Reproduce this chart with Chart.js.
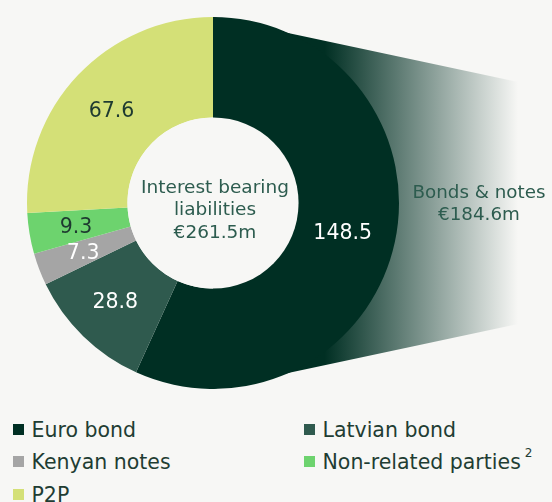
<!DOCTYPE html>
<html>
<head>
<meta charset="utf-8">
<script src="https://cdn.jsdelivr.net/npm/chart.js@4.4.1/dist/chart.umd.min.js"></script>
<style>
  html, body { margin: 0; padding: 0; background: #f7f7f5; }
  #wrap { position: relative; width: 552px; height: 502px; overflow: hidden; font-family: "DejaVu Sans", Verdana, sans-serif; }
  #chartBox { position: absolute; left: 0; top: 0; width: 552px; height: 400px; }
  #legend { position: absolute; left: 0; top: 413.5px; width: 552px; }
  .item { position: absolute; height: 32.5px; line-height: 32.5px; font-size: 20.5px; color: #1f3d33; white-space: nowrap; }
  .sw { position: absolute; left: 0; top: 10px; width: 11px; height: 11px; }
  .txt { position: absolute; left: 18.5px; top: 0; }
  sup { font-size: 12px; position: relative; top: -3px; vertical-align: top; line-height: 20px; margin-left: 4px; }
</style>
</head>
<body>
<div id="wrap">
  <div id="chartBox"><canvas id="donut"></canvas></div>
  <div id="legend"></div>
</div>
<script>
const categories = ['Euro bond', 'Latvian bond', 'Kenyan notes', 'Non-related parties', 'P2P'];
const values = [148.5, 28.8, 7.3, 9.3, 67.6];
const sliceColors = ['#002f23', '#2f5a4e', '#a5a5a5', '#6dd36e', '#d4e077'];
const labelColors = ['#ffffff', '#ffffff', '#ffffff', '#1e3a30', '#1e3a30'];
const footnotes = ['', '', '', '2', ''];
const centerLines = ['Interest bearing', 'liabilities', '€261.5m'];
const bondLines = ['Bonds & notes', '€184.6m'];

const FONT = '"DejaVu Sans", Verdana, sans-serif';
const BG = '#f7f7f5';

// fading band behind the bond slices, pointing to the "Bonds & notes" label
const bandPlugin = {
    id: 'band',
    beforeDatasetsDraw(chart) {
        const arc = chart.getDatasetMeta(0).data[0];
        if (!arc) return;
        const { x, y, outerRadius: r } = arc.getProps(['x', 'y', 'outerRadius'], true);
        const ctx = chart.ctx;
        const xr = x + 1.64 * r;
        const g = ctx.createLinearGradient(x + 0.6 * r, 0, xr, 0);
        g.addColorStop(0, 'rgba(0,47,35,1)');
        g.addColorStop(1, BG);
        ctx.save();
        ctx.beginPath();
        ctx.moveTo(x, y - r);
        ctx.lineTo(xr, y - 0.65 * r);
        ctx.lineTo(xr, y + 0.65 * r);
        ctx.lineTo(x, y + r);
        ctx.closePath();
        ctx.fillStyle = g;
        ctx.fill();
        ctx.restore();
    },
    afterDatasetsDraw(chart) {
        const meta = chart.getDatasetMeta(0);
        const ctx = chart.ctx;
        const { x, y, outerRadius: r, innerRadius: ir } =
            meta.data[0].getProps(['x', 'y', 'outerRadius', 'innerRadius'], true);
        ctx.save();

        // the hole keeps the page colour
        ctx.beginPath();
        ctx.arc(x, y, ir, 0, Math.PI * 2);
        ctx.fillStyle = BG;
        ctx.fill();

        ctx.textAlign = 'center';
        ctx.textBaseline = 'middle';

        // slice values
        ctx.font = '20.5px ' + FONT;
        meta.data.forEach((el, i) => {
            const p = el.tooltipPosition();
            ctx.fillStyle = labelColors[i];
            ctx.fillText(values[i].toFixed(1), p.x - 3, p.y + 2);
        });

        // centre text
        ctx.font = '18.5px ' + FONT;
        ctx.fillStyle = '#2d5c4f';
        centerLines.forEach((t, i) => {
            ctx.fillText(t, x + 2, y - 15 + i * 22.5);
        });

        // bond label
        ctx.font = '18.3px ' + FONT;
        bondLines.forEach((t, i) => {
            ctx.fillText(t, x + 1.43 * r, y - 10 + i * 22);
        });
        ctx.restore();
    }
};

new Chart(document.getElementById('donut'), {
    type: 'doughnut',
    data: {
        labels: categories,
        datasets: [{
            data: values,
            backgroundColor: sliceColors,
            borderWidth: 0
        }]
    },
    options: {
        responsive: true,
        maintainAspectRatio: false,
        animation: false,
        cutout: '46%',
        rotation: 0,
        layout: { padding: { left: 27, top: 17, right: 153, bottom: 11 } },
        plugins: {
            legend: { display: false },
            tooltip: { enabled: false }
        }
    },
    plugins: [bandPlugin]
});

// legend, two columns
const legend = document.getElementById('legend');
categories.forEach((c, i) => {
    const col = i % 2, row = Math.floor(i / 2);
    const d = document.createElement('div');
    d.className = 'item';
    d.style.left = (col ? 304 : 13) + 'px';
    d.style.top = (row * 32.5) + 'px';
    d.innerHTML = `<span class="sw" style="background:${sliceColors[i]}"></span>` +
        `<span class="txt">${c}${footnotes[i] ? '<sup>' + footnotes[i] + '</sup>' : ''}</span>`;
    legend.appendChild(d);
});
</script>
</body>
</html>
